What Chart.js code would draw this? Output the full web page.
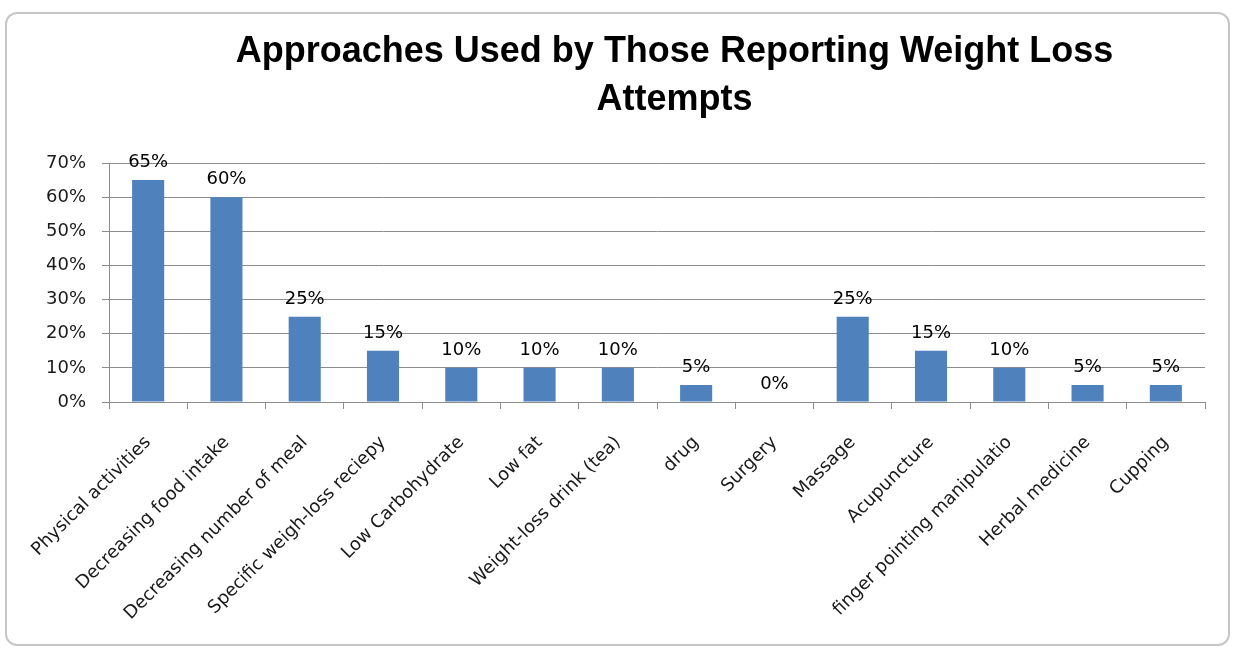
<!DOCTYPE html>
<html>
<head>
<meta charset="utf-8">
<script src="https://cdn.jsdelivr.net/npm/chart.js@4/dist/chart.umd.min.js"></script>
<style>
  html, body { margin: 0; padding: 0; background: #ffffff; }
  #wrap { position: relative; width: 1235px; height: 650px; overflow: hidden; }
  #frame { position: absolute; left: 5px; top: 12px; width: 1221px; height: 630px;
           border: 2px solid #c6c6c6; border-radius: 12px; box-sizing: content-box; }
  #c { position: absolute; left: 0; top: 0; }
</style>
</head>
<body>
<div id="wrap">
  <div id="frame"></div>
  <canvas id="c" width="1235" height="650"></canvas>
</div>
<script>
const titleLines = ["Approaches Used by Those Reporting Weight Loss", "Attempts"];
const categories = [
  "Physical activities",
  "Decreasing food intake",
  "Decreasing number of meal",
  "Specific weigh-loss reciepy",
  "Low Carbohydrate",
  "Low fat",
  "Weight-loss drink (tea)",
  "drug",
  "Surgery",
  "Massage",
  "Acupuncture",
  "finger pointing manipulatio",
  "Herbal medicine",
  "Cupping"
];
const percentValues = [65, 60, 25, 15, 10, 10, 10, 5, 0, 25, 15, 10, 5, 5];
const yTickValues = [0, 10, 20, 30, 40, 50, 60, 70];

const TICK_FONT = { family: "'DejaVu Sans', sans-serif", size: 18 };

const titleShift = {
  id: 'titleShift',
  afterLayout(chart) {
    const t = chart.titleBlock;
    if (t) { t.left += 72; t.right += 72; }
  }
};

const barLabels = {
  id: 'barLabels',
  afterDatasetsDraw(chart) {
    const ctx = chart.ctx;
    const meta = chart.getDatasetMeta(0);
    ctx.save();
    ctx.font = TICK_FONT.size + "px " + TICK_FONT.family;
    ctx.fillStyle = '#000000';
    ctx.textAlign = 'center';
    ctx.textBaseline = 'alphabetic';
    meta.data.forEach((bar, i) => {
      const v = chart.data.datasets[0].data[i];
      ctx.fillText(v + '%', bar.x, bar.y - 13);
    });
    ctx.restore();
  }
};

new Chart(document.getElementById('c'), {
  type: 'bar',
  data: {
    labels: categories,
    datasets: [{
      data: percentValues,
      backgroundColor: '#4F81BD',
      borderWidth: 0,
      categoryPercentage: 1.0,
      barPercentage: 0.41
    }]
  },
  options: {
    responsive: false,
    animation: false,
    layout: { padding: { left: 0, right: 30, top: 0, bottom: 0 } },
    plugins: {
      legend: { display: false },
      tooltip: { enabled: false },
      title: {
        display: true,
        text: titleLines,
        color: '#000000',
        font: { family: "'Liberation Sans', Arial, sans-serif", size: 36, weight: 'bold', lineHeight: 48 / 36 },
        padding: { top: 28, bottom: 39 }
      }
    },
    scales: {
      x: {
        offset: true,
        grid: { display: true, drawOnChartArea: false, drawTicks: true, tickLength: 7, color: '#8c8c8c', offset: true },
        border: { display: true, color: '#8c8c8c', width: 1 },
        ticks: {
          autoSkip: false, minRotation: 45, maxRotation: 45,
          color: '#1a1a1a', font: TICK_FONT, padding: 23
        },
        afterFit(scale) { scale.height = 248; }
      },
      y: {
        min: 0, max: 70,
        afterBuildTicks(scale) { scale.ticks = yTickValues.map(v => ({ value: v })); },
        grid: { color: '#8c8c8c', drawTicks: true, tickLength: 7 },
        border: { display: true, color: '#8c8c8c', width: 1 },
        ticks: {
          color: '#1a1a1a', font: TICK_FONT, padding: 16,
          callback: (v) => v + '%'
        },
        afterFit(scale) { scale.width = 109; }
      }
    }
  },
  plugins: [titleShift, barLabels]
});
</script>
</body>
</html>
